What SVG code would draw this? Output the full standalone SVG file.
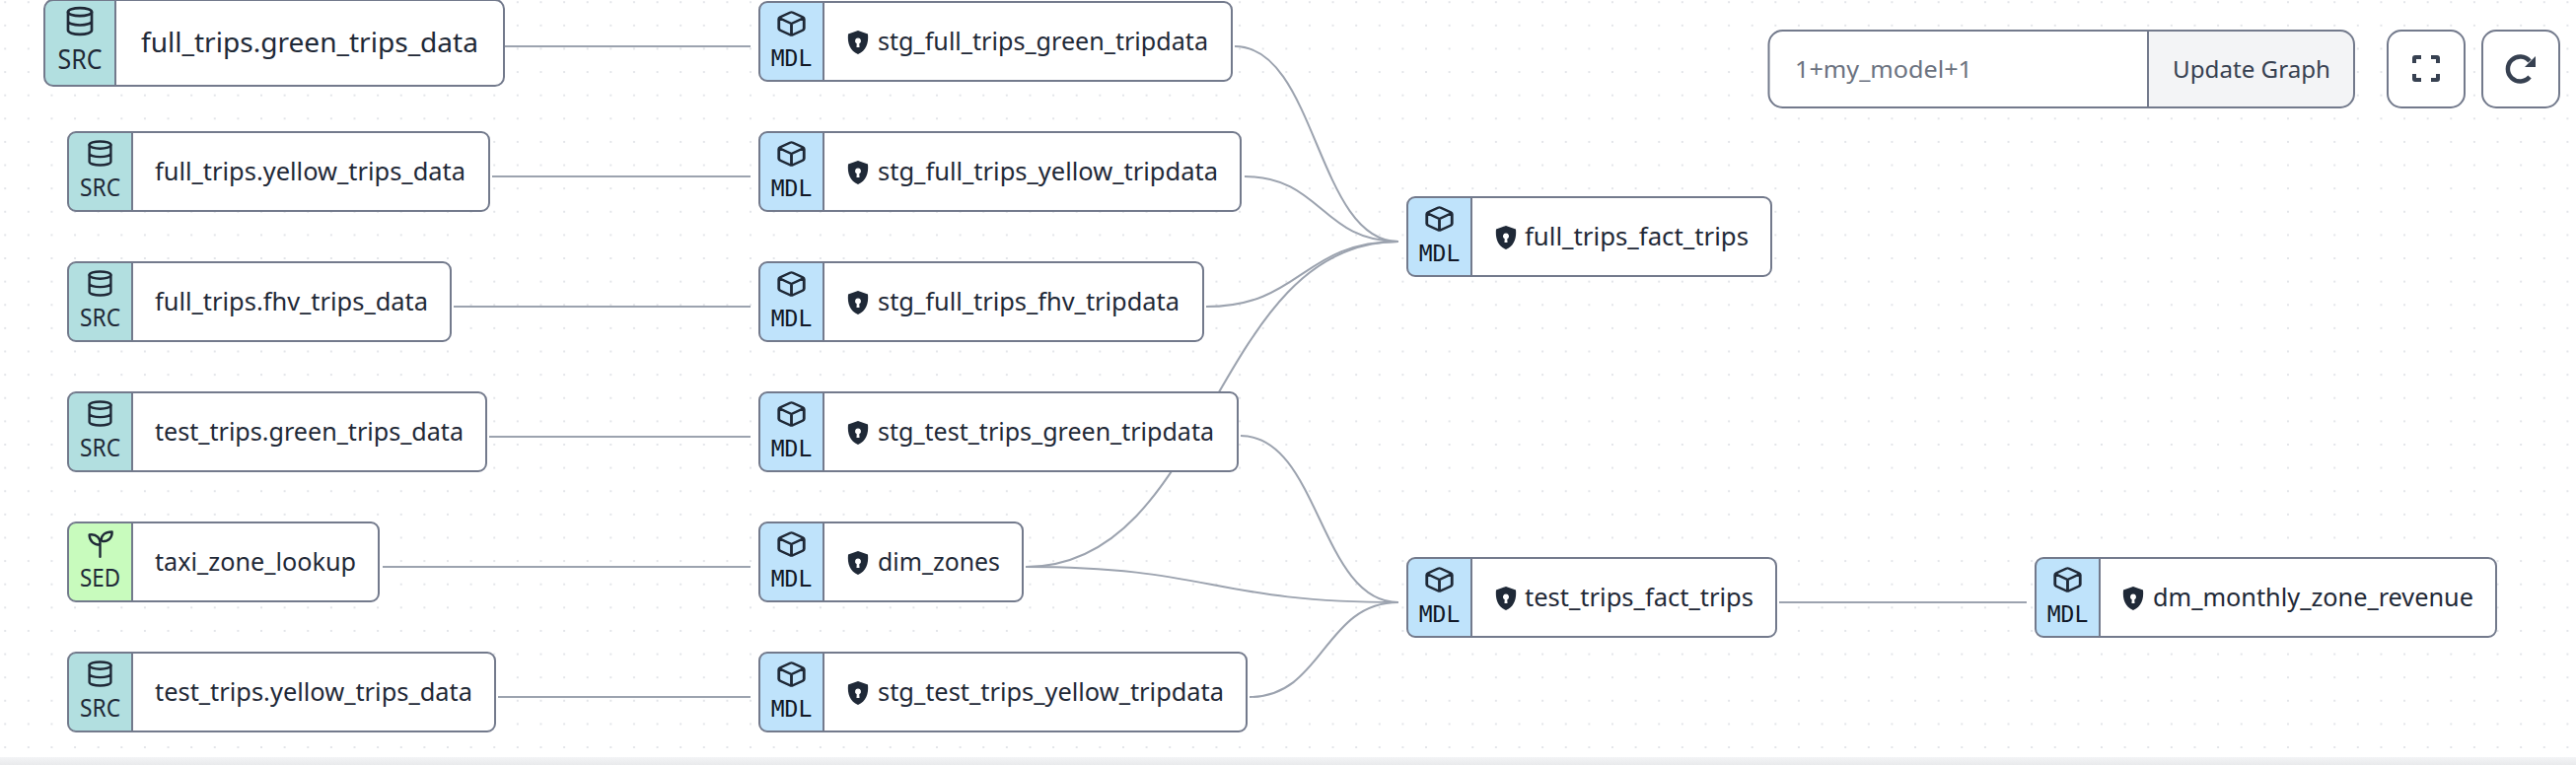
<svg xmlns="http://www.w3.org/2000/svg" width="2612" height="776" viewBox="0 0 2612 776">
<style>
.b{fill:#fff}
.o{fill:none;stroke:#737a8c;stroke-width:2}
.d{stroke:#737a8c;stroke-width:2}
.src{fill:#b2dfe0}.mdl{fill:#bfe3fb}.sed{fill:#c8fbbd}
.t{font-family:"Noto Sans",sans-serif;font-size:26px;fill:#1f2937}
.k{font-family:"Noto Sans",sans-serif;font-size:25px;fill:#1f2937;text-anchor:middle}
.m{font-family:"DejaVu Sans Mono",monospace;font-size:23px;fill:#111827;text-anchor:middle}
.i{fill:none;stroke:#1f2937;stroke-width:2;stroke-linecap:round;stroke-linejoin:round}
.e{fill:none;stroke:#9ca3af;stroke-width:2}
.ph{font-family:"Noto Sans",sans-serif;font-size:24px;fill:#6b7280}
.ub{font-family:"Noto Sans",sans-serif;font-size:24px;fill:#374151}
</style>
<defs>
<pattern id="dots" x="5.2" y="2.2" width="23.62" height="23.62" patternUnits="userSpaceOnUse"><rect x="-0.8" y="-0.8" width="1.6" height="1.6" fill="#d4d7dd"/><rect x="22.82" y="-0.8" width="1.6" height="1.6" fill="#d4d7dd"/><rect x="-0.8" y="22.82" width="1.6" height="1.6" fill="#d4d7dd"/><rect x="22.82" y="22.82" width="1.6" height="1.6" fill="#d4d7dd"/></pattern>
<linearGradient id="band" x1="0" y1="0" x2="0" y2="1"><stop offset="0" stop-color="#f3f4f6"/><stop offset="1" stop-color="#e9eaec"/></linearGradient>
<symbol id="cube" viewBox="0 0 24 24" preserveAspectRatio="none"><path class="i" d="M21 8a2 2 0 0 0-1-1.730l-7-4a2 2 0 0 0-2 0l-7 4A2 2 0 0 0 3 8v8a2 2 0 0 0 1 1.730l7 4a2 2 0 0 0 2 0l7-4A2 2 0 0 0 21 16ZM3.300 7 12 12l8.700-5M12 22V12"/></symbol>
<symbol id="db" viewBox="0 0 24 24"><ellipse class="i" cx="12" cy="5" rx="9" ry="3"/><path class="i" d="M3 5v14a9 3 0 0 0 18 0V5M3 12a9 3 0 0 0 18 0"/></symbol>
<symbol id="sprout" viewBox="0 0 24 24"><path class="i" d="M12 23V13M12 13C7 13 3 10 3 4.500c6-1 9.500 3 9 8.500zM13 9C13 5 16 2 22 2c.3 5-3 8-8 8"/></symbol>
<symbol id="shield" viewBox="0 0 22 24"><path fill="#1f2937" fill-rule="evenodd" d="M11 0 21 3.500C22 13 19 20.500 11 24 3 20.500 0 13 1 3.500ZM11 7.500a3 3 0 0 0-1.300 5.700L9.500 17h3l-.2-3.800A3 3 0 0 0 11 7.500Z"/></symbol>
</defs>
<rect width="2612" height="776" fill="#fff"/>
<rect width="2612" height="768" fill="url(#dots)"/>
<rect y="768" width="2612" height="8" fill="url(#band)"/>

<g id="connectors">
<path class="e" d="M512 47H761"/>
<path class="e" d="M499 179H761"/>
<path class="e" d="M460 311H761"/>
<path class="e" d="M496 443H761"/>
<path class="e" d="M388 575H761"/>
<path class="e" d="M505 707H761"/>
<path class="e" d="M1252 47C1335 47 1335 245 1418 245"/>
<path class="e" d="M1262 179C1340 179 1340 245 1418 245"/>
<path class="e" d="M1223 311C1320 311 1320 245 1418 245"/>
<path class="e" d="M1040 575C1229 575 1229 245 1418 245"/>
<path class="e" d="M1258 442C1338 442 1338 611 1418 611"/>
<path class="e" d="M1040 575C1229 575 1229 611 1418 611"/>
<path class="e" d="M1267 707C1342 707 1342 611 1418 611"/>
<path class="e" d="M1804 611H2055"/>
</g>

<g id="src-full-green">
<rect class="b" x="45" y="0" width="466" height="87" rx="9"/>
<path class="src" d="M117 0V87H54a9 9 0 0 1-9-9V9a9 9 0 0 1 9-9Z"/>
<line class="d" x1="117" y1="0" x2="117" y2="87"/>
<rect class="o" x="45" y="0" width="466" height="87" rx="9"/>
<use href="#db" x="65" y="5.500" width="32" height="32"/>
<text class="k" x="81" y="70" style="font-size:27px" textLength="45" lengthAdjust="spacingAndGlyphs">SRC</text>
<text class="t" x="143" y="53" style="font-size:28px" textLength="342" lengthAdjust="spacingAndGlyphs">full_trips.green_trips_data</text>
</g>

<g id="src-full-yellow">
<rect class="b" x="69" y="134" width="427" height="80" rx="8"/>
<path class="src" d="M134 134V214H77a8 8 0 0 1-8-8V142a8 8 0 0 1 8-8Z"/>
<line class="d" x1="134" y1="134" x2="134" y2="214"/>
<rect class="o" x="69" y="134" width="427" height="80" rx="8"/>
<use href="#db" x="87" y="141" width="29" height="29"/>
<text class="k" x="101.500" y="199" textLength="41" lengthAdjust="spacingAndGlyphs">SRC</text>
<text class="t" x="157" y="183" textLength="315" lengthAdjust="spacingAndGlyphs">full_trips.yellow_trips_data</text>
</g>

<g id="src-full-fhv">
<rect class="b" x="69" y="266" width="388" height="80" rx="8"/>
<path class="src" d="M134 266V346H77a8 8 0 0 1-8-8V274a8 8 0 0 1 8-8Z"/>
<line class="d" x1="134" y1="266" x2="134" y2="346"/>
<rect class="o" x="69" y="266" width="388" height="80" rx="8"/>
<use href="#db" x="87" y="273" width="29" height="29"/>
<text class="k" x="101.500" y="331" textLength="41" lengthAdjust="spacingAndGlyphs">SRC</text>
<text class="t" x="157" y="315" textLength="277" lengthAdjust="spacingAndGlyphs">full_trips.fhv_trips_data</text>
</g>

<g id="src-test-green">
<rect class="b" x="69" y="398" width="424" height="80" rx="8"/>
<path class="src" d="M134 398V478H77a8 8 0 0 1-8-8V406a8 8 0 0 1 8-8Z"/>
<line class="d" x1="134" y1="398" x2="134" y2="478"/>
<rect class="o" x="69" y="398" width="424" height="80" rx="8"/>
<use href="#db" x="87" y="405" width="29" height="29"/>
<text class="k" x="101.500" y="463" textLength="41" lengthAdjust="spacingAndGlyphs">SRC</text>
<text class="t" x="157" y="447" textLength="313" lengthAdjust="spacingAndGlyphs">test_trips.green_trips_data</text>
</g>

<g id="sed-taxi">
<rect class="b" x="69" y="530" width="315" height="80" rx="8"/>
<path class="sed" d="M134 530V610H77a8 8 0 0 1-8-8V538a8 8 0 0 1 8-8Z"/>
<line class="d" x1="134" y1="530" x2="134" y2="610"/>
<rect class="o" x="69" y="530" width="315" height="80" rx="8"/>
<use href="#sprout" x="87" y="537" width="29" height="29"/>
<text class="k" x="101.500" y="595" textLength="41" lengthAdjust="spacingAndGlyphs">SED</text>
<text class="t" x="157" y="579" textLength="204" lengthAdjust="spacingAndGlyphs">taxi_zone_lookup</text>
</g>

<g id="src-test-yellow">
<rect class="b" x="69" y="662" width="433" height="80" rx="8"/>
<path class="src" d="M134 662V742H77a8 8 0 0 1-8-8V670a8 8 0 0 1 8-8Z"/>
<line class="d" x1="134" y1="662" x2="134" y2="742"/>
<rect class="o" x="69" y="662" width="433" height="80" rx="8"/>
<use href="#db" x="87" y="669" width="29" height="29"/>
<text class="k" x="101.500" y="727" textLength="41" lengthAdjust="spacingAndGlyphs">SRC</text>
<text class="t" x="157" y="711" textLength="322" lengthAdjust="spacingAndGlyphs">test_trips.yellow_trips_data</text>
</g>

<g id="stg-full-green">
<rect class="b" x="770" y="2" width="479" height="80" rx="8"/>
<path class="mdl" d="M835 2V82H778a8 8 0 0 1-8-8V10a8 8 0 0 1 8-8Z"/>
<line class="d" x1="835" y1="2" x2="835" y2="82"/>
<rect class="o" x="770" y="2" width="479" height="80" rx="8"/>
<use href="#cube" x="785.500" y="10" width="34" height="28"/>
<text class="m" x="802.500" y="67">MDL</text>
<use href="#shield" x="859" y="31" width="22" height="24"/>
<text class="t" x="890" y="51" textLength="335" lengthAdjust="spacingAndGlyphs">stg_full_trips_green_tripdata</text>
</g>

<g id="stg-full-yellow">
<rect class="b" x="770" y="134" width="488" height="80" rx="8"/>
<path class="mdl" d="M835 134V214H778a8 8 0 0 1-8-8V142a8 8 0 0 1 8-8Z"/>
<line class="d" x1="835" y1="134" x2="835" y2="214"/>
<rect class="o" x="770" y="134" width="488" height="80" rx="8"/>
<use href="#cube" x="785.500" y="142" width="34" height="28"/>
<text class="m" x="802.500" y="199">MDL</text>
<use href="#shield" x="859" y="163" width="22" height="24"/>
<text class="t" x="890" y="183" textLength="345" lengthAdjust="spacingAndGlyphs">stg_full_trips_yellow_tripdata</text>
</g>

<g id="stg-full-fhv">
<rect class="b" x="770" y="266" width="450" height="80" rx="8"/>
<path class="mdl" d="M835 266V346H778a8 8 0 0 1-8-8V274a8 8 0 0 1 8-8Z"/>
<line class="d" x1="835" y1="266" x2="835" y2="346"/>
<rect class="o" x="770" y="266" width="450" height="80" rx="8"/>
<use href="#cube" x="785.500" y="274" width="34" height="28"/>
<text class="m" x="802.500" y="331">MDL</text>
<use href="#shield" x="859" y="295" width="22" height="24"/>
<text class="t" x="890" y="315" textLength="306" lengthAdjust="spacingAndGlyphs">stg_full_trips_fhv_tripdata</text>
</g>

<g id="stg-test-green">
<rect class="b" x="770" y="398" width="485" height="80" rx="8"/>
<path class="mdl" d="M835 398V478H778a8 8 0 0 1-8-8V406a8 8 0 0 1 8-8Z"/>
<line class="d" x1="835" y1="398" x2="835" y2="478"/>
<rect class="o" x="770" y="398" width="485" height="80" rx="8"/>
<use href="#cube" x="785.500" y="406" width="34" height="28"/>
<text class="m" x="802.500" y="463">MDL</text>
<use href="#shield" x="859" y="427" width="22" height="24"/>
<text class="t" x="890" y="447" textLength="341" lengthAdjust="spacingAndGlyphs">stg_test_trips_green_tripdata</text>
</g>

<g id="dim-zones">
<rect class="b" x="770" y="530" width="267" height="80" rx="8"/>
<path class="mdl" d="M835 530V610H778a8 8 0 0 1-8-8V538a8 8 0 0 1 8-8Z"/>
<line class="d" x1="835" y1="530" x2="835" y2="610"/>
<rect class="o" x="770" y="530" width="267" height="80" rx="8"/>
<use href="#cube" x="785.500" y="538" width="34" height="28"/>
<text class="m" x="802.500" y="595">MDL</text>
<use href="#shield" x="859" y="559" width="22" height="24"/>
<text class="t" x="890" y="579" textLength="124" lengthAdjust="spacingAndGlyphs">dim_zones</text>
</g>

<g id="stg-test-yellow">
<rect class="b" x="770" y="662" width="494" height="80" rx="8"/>
<path class="mdl" d="M835 662V742H778a8 8 0 0 1-8-8V670a8 8 0 0 1 8-8Z"/>
<line class="d" x1="835" y1="662" x2="835" y2="742"/>
<rect class="o" x="770" y="662" width="494" height="80" rx="8"/>
<use href="#cube" x="785.500" y="670" width="34" height="28"/>
<text class="m" x="802.500" y="727">MDL</text>
<use href="#shield" x="859" y="691" width="22" height="24"/>
<text class="t" x="890" y="711" textLength="351" lengthAdjust="spacingAndGlyphs">stg_test_trips_yellow_tripdata</text>
</g>

<g id="full-fact">
<rect class="b" x="1427" y="200" width="369" height="80" rx="8"/>
<path class="mdl" d="M1492 200V280H1435a8 8 0 0 1-8-8V208a8 8 0 0 1 8-8Z"/>
<line class="d" x1="1492" y1="200" x2="1492" y2="280"/>
<rect class="o" x="1427" y="200" width="369" height="80" rx="8"/>
<use href="#cube" x="1442.500" y="208" width="34" height="28"/>
<text class="m" x="1459.500" y="265">MDL</text>
<use href="#shield" x="1516" y="229" width="22" height="24"/>
<text class="t" x="1546" y="249" textLength="227" lengthAdjust="spacingAndGlyphs">full_trips_fact_trips</text>
</g>

<g id="test-fact">
<rect class="b" x="1427" y="566" width="374" height="80" rx="8"/>
<path class="mdl" d="M1492 566V646H1435a8 8 0 0 1-8-8V574a8 8 0 0 1 8-8Z"/>
<line class="d" x1="1492" y1="566" x2="1492" y2="646"/>
<rect class="o" x="1427" y="566" width="374" height="80" rx="8"/>
<use href="#cube" x="1442.500" y="574" width="34" height="28"/>
<text class="m" x="1459.500" y="631">MDL</text>
<use href="#shield" x="1516" y="595" width="22" height="24"/>
<text class="t" x="1546" y="615" textLength="232" lengthAdjust="spacingAndGlyphs">test_trips_fact_trips</text>
</g>

<g id="dm-revenue">
<rect class="b" x="2064" y="566" width="467" height="80" rx="8"/>
<path class="mdl" d="M2129 566V646H2072a8 8 0 0 1-8-8V574a8 8 0 0 1 8-8Z"/>
<line class="d" x1="2129" y1="566" x2="2129" y2="646"/>
<rect class="o" x="2064" y="566" width="467" height="80" rx="8"/>
<use href="#cube" x="2079.500" y="574" width="34" height="28"/>
<text class="m" x="2096.500" y="631">MDL</text>
<use href="#shield" x="2152" y="595" width="22" height="24"/>
<text class="t" x="2183" y="615" textLength="325" lengthAdjust="spacingAndGlyphs">dm_monthly_zone_revenue</text>
</g>

<g id="graph-input">
<path fill="#fff" d="M2178 31V109H1807a14 14 0 0 1-14-14V45a14 14 0 0 1 14-14Z"/>
<path fill="#f3f4f6" d="M2178 31H2373a14 14 0 0 1 14 14V95a14 14 0 0 1-14 14H2178Z"/>
<line class="d" x1="2178" y1="31" x2="2178" y2="109"/>
<rect class="o" x="1793.500" y="31" width="593.500" height="78" rx="14"/>
<text class="ph" x="1820" y="79" textLength="180" lengthAdjust="spacingAndGlyphs">1+my_model+1</text>
<text class="ub" x="2203" y="79" textLength="160" lengthAdjust="spacingAndGlyphs">Update Graph</text>
</g>
<g id="fullscreen-button">
<rect class="b" x="2421" y="31" width="78" height="78" rx="14"/>
<rect class="o" x="2421" y="31" width="78" height="78" rx="14"/>
<path fill="none" stroke="#374151" stroke-width="4" d="M2448 64V59a1 1 0 0 1 1-1h6M2465 58h6a1 1 0 0 1 1 1v5M2472 75v5a1 1 0 0 1-1 1h-6M2455 81h-6a1 1 0 0 1-1-1v-5"/>
</g>
<g id="reload-button">
<rect class="b" x="2517" y="31" width="78" height="78" rx="14"/>
<rect class="o" x="2517" y="31" width="78" height="78" rx="14"/>
<path fill="none" stroke="#374151" stroke-width="4.500" d="M2565 78A12.500 12.500 0 1 1 2565 62"/>
<path fill="#374151" d="M2571 57V68H2560Z"/>
</g>
</svg>
